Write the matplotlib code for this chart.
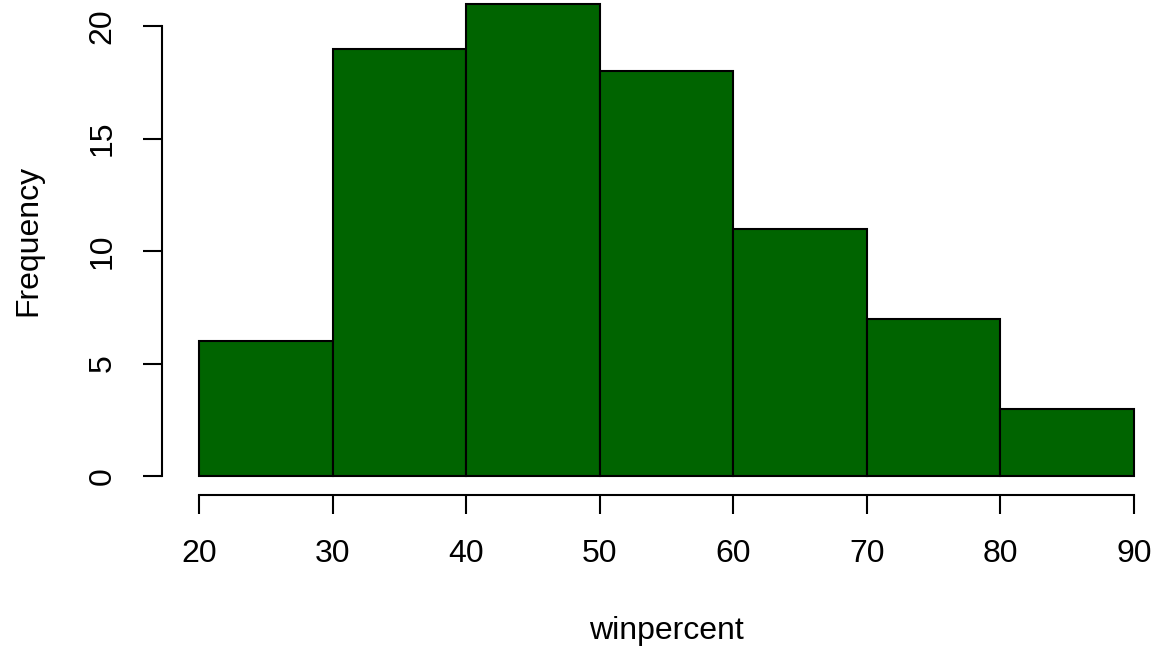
import matplotlib
matplotlib.use("Agg")
import matplotlib.pyplot as plt

plt.rcParams['font.family'] = ['Liberation Sans', 'DejaVu Sans']

bin_edges = [20, 30, 40, 50, 60, 70, 80, 90]
counts = [6, 19, 21, 18, 11, 7, 3]
xticks = [20, 30, 40, 50, 60, 70, 80, 90]
yticks = [0, 5, 10, 15, 20]

W, H = 1158, 653
fig = plt.figure(figsize=(W / 100, H / 100), dpi=100)

# data area: x 20..90 -> px 199..1134, y 0 at px 476, 22.5 px per unit
x0, x1 = 199, 1134
y0 = 476
ppu = 22.5
ytop = 21
ax = fig.add_axes([x0 / W, 1 - y0 / H, (x1 - x0) / W, ytop * ppu / H])
ax.set_xlim(20, 90)
ax.set_ylim(0, ytop)

lefts = bin_edges[:-1]
widths = [b - a for a, b in zip(bin_edges[:-1], bin_edges[1:])]
ax.bar(lefts, counts, width=widths, align='edge', color='#006400',
       edgecolor='black', linewidth=1.5, clip_on=False)

fs = 23
for s in ['top', 'right']:
    ax.spines[s].set_visible(False)
ax.spines['left'].set_position(('outward', 37 * 0.72))
ax.spines['bottom'].set_position(('outward', 19 * 0.72))
ax.spines['left'].set_bounds(0, 20)
ax.spines['bottom'].set_bounds(20, 90)
for s in ['left', 'bottom']:
    ax.spines[s].set_linewidth(1.5)

ax.set_xticks(xticks)
ax.set_yticks(yticks)
ax.tick_params(axis='both', length=14, width=1.5, labelsize=fs, pad=18)
for lab in ax.get_yticklabels():
    lab.set_rotation(90)
    lab.set_va('center')

fig.text(666 / W, 1 - 631 / H, 'winpercent', fontsize=fs, ha='center', va='center')
fig.text(28 / W, 1 - 240 / H, 'Frequency', fontsize=fs, ha='center', va='center', rotation=90)

fig.savefig('out.png', dpi=100)
